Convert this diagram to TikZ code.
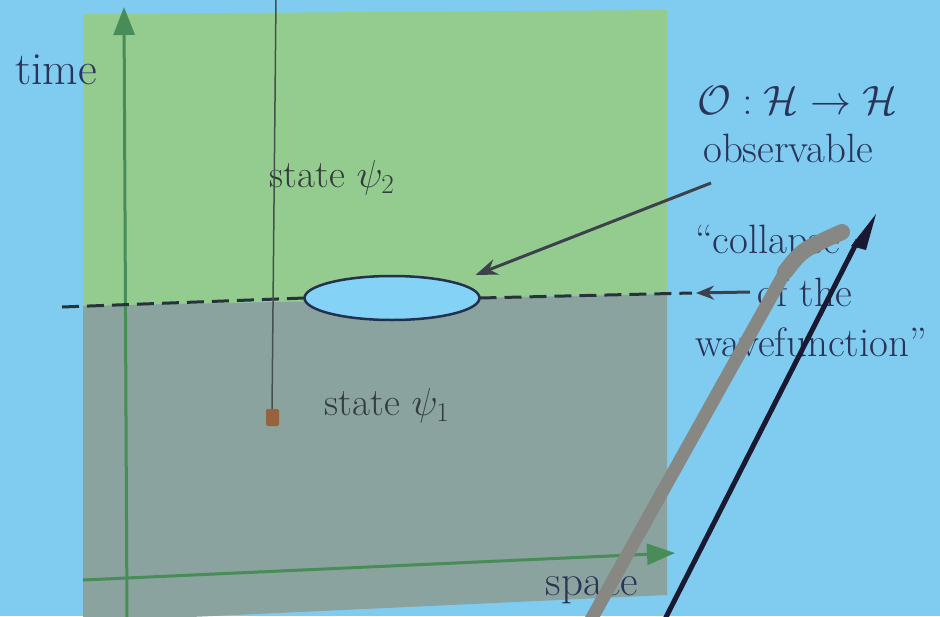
\RequirePackage{fix-cm}
\documentclass[tikz,border=0pt]{standalone}
\usetikzlibrary{shapes.geometric,arrows.meta,calc}
\definecolor{bgblue}{RGB}{128,204,240}
\definecolor{greenreg}{RGB}{148,204,144}
\definecolor{grayreg}{RGB}{138,163,158}
\definecolor{axisgreen}{RGB}{72,140,88}
\definecolor{navytext}{RGB}{42,52,88}
\definecolor{statetext}{RGB}{50,60,58}
\definecolor{ellfill}{RGB}{132,210,246}
\definecolor{ellborder}{RGB}{35,48,78}
\definecolor{dashcol}{RGB}{40,50,60}
\definecolor{ptrcol}{RGB}{60,65,75}
\definecolor{cordcol}{RGB}{70,80,75}
\definecolor{weightcol}{RGB}{150,100,60}
\definecolor{stickgray}{RGB}{135,135,132}
\definecolor{stickblack}{RGB}{25,25,50}
\tikzset{
  axisline/.style={draw=axisgreen,line width=3pt,-{Triangle[length=28pt,width=21pt]}},
  lbl/.style={text=navytext,inner sep=0pt,font=\fontsize{41}{48}\selectfont},
  statelbl/.style={text=statetext,inner sep=0pt,font=\fontsize{39}{46}\selectfont},
  dashline/.style={draw=dashcol,line width=3pt,dash pattern=on 17pt off 8pt},
  ptrarrow/.style={draw=ptrcol,line width=3pt,-{Stealth[length=22pt,width=16pt]}},
  collapseellipse/.style={ellipse,draw=ellborder,line width=2.5pt,fill=ellfill,minimum width=175pt,minimum height=44pt,inner sep=0pt,outer sep=0pt}
}
\begin{document}
\begin{tikzpicture}[x=1pt,y=-1pt]
\useasboundingbox (0,0) rectangle (940,616);
\fill[bgblue] (0,0) rectangle (940,616);
% regions
\fill[greenreg] (83,14) -- (667,10) -- (667,294) -- (83,306) -- cycle;
\fill[grayreg] (83,306) -- (667,294) -- (667,595) -- (83,622) -- cycle;
% axes
\coordinate (torig) at (127,620);
\coordinate (ttip) at (124,7);
\coordinate (sorig) at (83,580);
\coordinate (stip) at (675,553);
\draw[axisline] (torig) -- (ttip);
\draw[axisline] (sorig) -- (stip);
% labels
\node[lbl,font=\fontsize{46}{52}\selectfont] (time) at (56,70) {time};
\node[lbl,font=\fontsize{43}{50}\selectfont] (space) at (592,590) {space};
\node[statelbl] (psi2) at (332,178) {state $\psi_2$};
\node[statelbl] (psi1) at (387,406) {state $\psi_1$};
% ellipse and dashed line
\node[collapseellipse] (ell) at (392,298) {};
\coordinate (dl) at (62,307);
\coordinate (dr) at (692,293);
\draw[dashline] (dl) -- (ell.west);
\draw[dashline] (ell.east) -- (dr);
% observable
\node[lbl,anchor=west] (map) at (697,100) {$\mathcal{O}:\mathcal{H}\to\mathcal{H}$};
\node[lbl,anchor=west] (obs) at (703,148) {observable};
\coordinate (obsfrom) at (711,183);
\coordinate (obsto) at ($(ell.east)+(-4,-23)$);
\draw[ptrarrow] (obsfrom) -- (obsto);
% collapse
\node[lbl,anchor=west] (coll) at (695,243) {``collapse};
\node[lbl,anchor=west] (ofthe) at (757,292) {of the};
\node[lbl,anchor=west] (wave) at (695,342) {wavefunction''};
\coordinate (carrs) at (750,292);
\coordinate (carre) at (696,293);
\draw[ptrarrow,-{Stealth[length=18pt,width=14pt]}] (carrs) -- (carre);
% hanging cord
\draw[cordcol,line width=1.5pt] (276,-2) -- (272,410);
\fill[weightcol,rounded corners=2pt] (266,409) rectangle (279,426);
% pointer sticks
\draw[stickgray,line width=13pt] (588,625) -- (785,272);
\draw[stickgray,line width=16pt,line cap=round] (785,272) .. controls (802,250) .. (842,232);
\draw[stickblack,line width=5pt] (662,625) -- (858,240);
\fill[stickblack] (851,246) -- (876,214) -- (866,250) -- cycle;
\end{tikzpicture}
\end{document}
